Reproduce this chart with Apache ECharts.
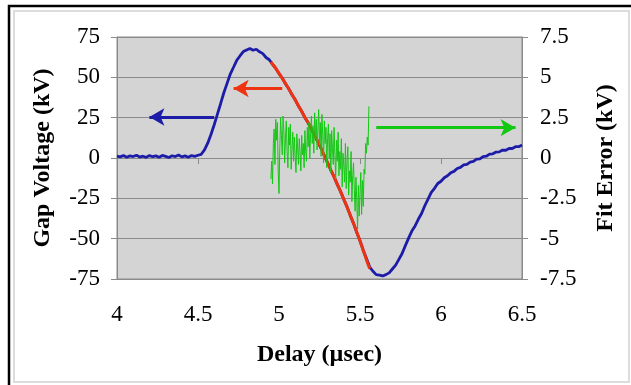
<!DOCTYPE html>
<html>
<head>
<meta charset="utf-8">
<script src="https://cdn.jsdelivr.net/npm/echarts@6.0.0/dist/echarts.min.js"></script>
<style>
  html, body { margin: 0; padding: 0; background: #fff; }
  #chart { width: 631px; height: 385px; }
</style>
</head>
<body>
<div id="chart"></div>
<script>
// measured gap voltage, [delay (usec), kV]
const gapVoltage = [
  [4.00,1.2],[4.02,0.7],[4.04,1.6],[4.06,0.5],[4.08,1.3],[4.10,0.9],[4.12,1.7],[4.14,0.6],[4.16,1.1],[4.18,0.4],
  [4.20,1.5],[4.22,0.8],[4.24,1.3],[4.26,0.5],[4.28,1.6],[4.30,1.0],[4.32,0.3],[4.34,1.4],[4.36,0.9],[4.38,1.8],
  [4.40,0.7],[4.42,1.3],[4.44,0.5],[4.46,1.5],[4.48,1.0],[4.50,1.7],[4.52,2.3],[4.54,5.0],[4.56,9.2],[4.58,14.6],
  [4.60,20.6],[4.62,27.2],[4.64,33.8],[4.66,40.6],[4.68,46.4],[4.70,52.2],[4.72,56.4],[4.74,60.7],[4.76,63.4],[4.78,66.0],
  [4.80,67.0],[4.82,67.9],[4.84,66.8],[4.86,67.4],[4.88,65.8],[4.90,64.7],[4.92,62.3],[4.94,60.9],[4.96,58.1],[4.98,55.7],
  [5.00,52.3],[5.02,49.6],[5.04,45.9],[5.06,43.0],[5.08,39.2],[5.10,36.2],[5.12,32.2],[5.14,29.0],[5.16,25.0],[5.18,21.8],
  [5.20,17.8],[5.22,14.2],[5.24,9.8],[5.26,6.0],[5.28,1.2],[5.30,-2.8],[5.32,-7.6],[5.34,-11.6],[5.36,-16.5],[5.38,-20.7],
  [5.40,-25.7],[5.42,-30.3],[5.44,-35.7],[5.46,-40.5],[5.48,-46.2],[5.50,-51.3],[5.52,-57.2],[5.54,-62.3],[5.56,-67.6],[5.58,-70.2],
  [5.60,-72.3],[5.62,-72.6],[5.64,-73.1],[5.66,-72.3],[5.68,-71.2],[5.70,-68.8],[5.72,-66.4],[5.74,-62.8],[5.76,-59.2],[5.78,-54.3],
  [5.80,-49.7],[5.82,-45.3],[5.84,-42.1],[5.86,-38.0],[5.88,-34.4],[5.90,-29.6],[5.92,-25.5],[5.94,-21.3],[5.96,-18.8],[5.98,-15.8],
  [6.00,-14.4],[6.02,-12.2],[6.04,-11.0],[6.06,-9.2],[6.08,-8.3],[6.10,-6.5],[6.12,-5.8],[6.14,-4.3],[6.16,-3.9],[6.18,-2.5],
  [6.20,-2.1],[6.22,-0.7],[6.24,-0.5],[6.26,0.9],[6.28,1.1],[6.30,2.4],[6.32,2.6],[6.34,3.7],[6.36,3.8],[6.38,4.9],
  [6.40,4.8],[6.42,5.9],[6.44,5.9],[6.46,7.0],[6.48,7.0],[6.50,8.0]
];

// fitted curve over the falling edge
const fitCurve = [
  [4.95,59.5],[5.00,52.5],[5.05,44.5],[5.10,36.0],[5.15,27.0],[5.20,18.0],[5.25,8.0],
  [5.30,-3.0],[5.35,-14.0],[5.40,-25.5],[5.45,-38.0],[5.50,-51.5],[5.55,-66.0],[5.56,-68.5]
];

// residual of the fit (right axis, kV)
const fitError = [
  [4.950,-1.3],[4.955,-0.2],[4.960,-1.6],[4.965,0.9],[4.970,1.8],[4.975,-0.4],[4.980,2.4],[4.985,1.1],[4.990,2.2],[4.995,-0.8],
  [5.000,-2.2],[5.005,0.6],[5.010,2.5],[5.015,1.4],[5.020,0.2],[5.025,2.6],[5.030,1.7],[5.035,-0.3],[5.040,1.2],[5.045,2.3],
  [5.050,0.4],[5.055,-0.6],[5.060,1.9],[5.065,0.8],[5.070,2.1],[5.075,-0.7],[5.080,0.5],[5.085,1.6],[5.090,-0.2],[5.095,1.3],
  [5.100,0.1],[5.105,-0.9],[5.110,1.5],[5.115,0.6],[5.120,-0.4],[5.125,1.2],[5.130,0.3],[5.135,-0.8],[5.140,1.4],[5.145,0.2],
  [5.150,0.9],[5.155,-0.6],[5.160,1.7],[5.165,0.4],[5.170,-0.2],[5.175,1.9],[5.180,0.7],[5.185,2.2],[5.190,0.0],[5.195,1.5],
  [5.200,2.6],[5.205,0.9],[5.210,2.0],[5.215,0.3],[5.220,2.8],[5.225,1.2],[5.230,2.4],[5.235,0.5],[5.240,1.8],[5.245,3.0],
  [5.250,0.8],[5.255,2.2],[5.260,0.1],[5.265,2.7],[5.270,1.4],[5.275,-0.3],[5.280,2.3],[5.285,0.9],[5.290,1.9],[5.295,-0.6],
  [5.300,1.2],[5.305,2.1],[5.310,0.0],[5.315,1.5],[5.320,-0.9],[5.325,1.7],[5.330,0.6],[5.335,-0.4],[5.340,1.9],[5.345,0.2],
  [5.350,-1.3],[5.355,1.1],[5.360,-0.2],[5.365,1.6],[5.370,-1.1],[5.375,0.4],[5.380,-0.7],[5.385,1.2],[5.390,-1.8],[5.395,0.3],
  [5.400,-0.5],[5.405,-1.5],[5.410,0.9],[5.415,-1.9],[5.420,-0.2],[5.425,0.7],[5.430,-2.3],[5.435,-0.8],[5.440,-1.5],[5.445,0.4],
  [5.450,-2.7],[5.455,-1.1],[5.460,-0.3],[5.465,-2.0],[5.470,-3.3],[5.475,-1.2],[5.480,-2.6],[5.485,-4.4],[5.490,-1.7],[5.495,-3.6],
  [5.500,-2.2],[5.505,-0.9],[5.510,-3.5],[5.515,-1.4],[5.520,-3.0],[5.525,-0.7],[5.530,-1.0],[5.535,0.9],[5.540,0.3],[5.545,1.3],
  [5.550,0.8],[5.555,3.2]
];

const xTicks = { min: 4, max: 6.5, step: 0.5 };
const leftTicks = { min: -75, max: 75, step: 25 };
const rightTicks = { min: -7.5, max: 7.5, step: 2.5 };

const serif = '"Liberation Serif", "Times New Roman", serif';
const axisGray = '#8a8a8a';

const chart = echarts.init(document.getElementById('chart'), null, { renderer: 'canvas' });

function arrow(from, to, color) {
  return {
    silent: true,
    symbol: ['none', 'arrow'],
    symbolSize: [13, 15],
    label: { show: false },
    lineStyle: { color: color, width: 3, type: 'solid' },
    emphasis: { disabled: true },
    animation: false,
    data: [[{ coord: from }, { coord: to }]]
  };
}

chart.setOption({
  animation: false,
  backgroundColor: '#fff',
  graphic: [
    { type: 'rect', shape: { x: 9, y: 6, width: 640, height: 400 }, style: { fill: 'none', stroke: '#000', lineWidth: 2.5 }, silent: true },
    { type: 'rect', shape: { x: 14, y: 11, width: 615, height: 371 }, style: { fill: 'none', stroke: '#dcdcdc', lineWidth: 2 }, silent: true }
  ],
  grid: {
    left: 117,
    right: 109,
    top: 37,
    bottom: 106,
    show: true,
    backgroundColor: '#d4d4d4',
    borderColor: axisGray,
    borderWidth: 1
  },
  xAxis: {
    type: 'value',
    min: xTicks.min,
    max: xTicks.max,
    interval: xTicks.step,
    name: 'Delay (µsec)',
    nameLocation: 'middle',
    nameGap: 64,
    nameTextStyle: { fontFamily: serif, fontWeight: 'bold', fontSize: 24, color: '#000' },
    axisLine: { show: true, lineStyle: { color: axisGray } },
    axisTick: { show: true, length: 6, lineStyle: { color: axisGray } },
    axisLabel: { fontFamily: serif, fontSize: 23, color: '#000', margin: 24 },
    splitLine: { show: false }
  },
  yAxis: [
    {
      type: 'value',
      position: 'left',
      min: leftTicks.min,
      max: leftTicks.max,
      interval: leftTicks.step,
      name: 'Gap Voltage (kV)',
      nameLocation: 'middle',
      nameGap: 62,
      nameTextStyle: { fontFamily: serif, fontWeight: 'bold', fontSize: 24, color: '#000' },
      axisLine: { show: true, lineStyle: { color: axisGray } },
      axisTick: { show: true, length: 6, lineStyle: { color: axisGray } },
      axisLabel: { fontFamily: serif, fontSize: 23, color: '#000', margin: 17 },
      splitLine: { show: true, lineStyle: { color: axisGray, width: 1 } }
    },
    {
      type: 'value',
      position: 'right',
      min: rightTicks.min,
      max: rightTicks.max,
      interval: rightTicks.step,
      name: 'Fit Error (kV)',
      nameLocation: 'middle',
      nameGap: 72,
      nameTextStyle: { fontFamily: serif, fontWeight: 'bold', fontSize: 24, color: '#000' },
      axisLine: { show: true, lineStyle: { color: axisGray } },
      axisTick: { show: true, length: 6, lineStyle: { color: axisGray } },
      axisLabel: { fontFamily: serif, fontSize: 23, color: '#000', margin: 18 },
      splitLine: { show: false }
    }
  ],
  series: [
    {
      name: 'Gap Voltage',
      type: 'line',
      yAxisIndex: 0,
      data: gapVoltage,
      symbol: 'none',
      lineStyle: { color: '#1c1ca8', width: 2.8 },
      markLine: arrow([4.6, 25.4], [4.2, 25.4], '#1c1ca8')
    },
    {
      name: 'Fit',
      type: 'line',
      yAxisIndex: 0,
      data: fitCurve,
      smooth: true,
      symbol: 'none',
      lineStyle: { color: '#ee3311', width: 3 },
      markLine: arrow([5.02, 43.1], [4.72, 43.1], '#ee3311')
    },
    {
      name: 'Fit Error',
      type: 'line',
      yAxisIndex: 1,
      data: fitError,
      symbol: 'none',
      lineStyle: { color: '#13c813', width: 1 },
      markLine: arrow([5.6, 1.88], [6.46, 1.88], '#13c813')
    }
  ]
});
</script>
</body>
</html>
